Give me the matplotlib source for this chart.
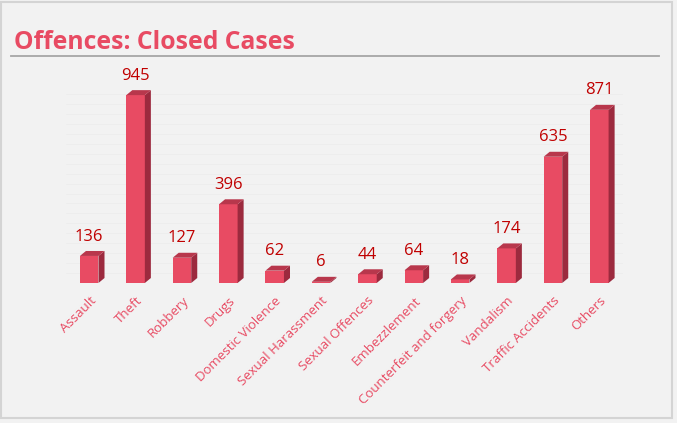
import matplotlib
matplotlib.use("Agg")
import matplotlib.pyplot as plt
from matplotlib.patches import Polygon, Rectangle
from matplotlib.lines import Line2D
import numpy as np

categories = ["Assault", "Theft", "Robbery", "Drugs", "Domestic Violence",
              "Sexual Harassment", "Sexual Offences", "Embezzlement",
              "Counterfeit and forgery", "Vandalism", "Traffic Accidents", "Others"]
closed_cases = [136, 945, 127, 396, 62, 6, 44, 64, 18, 174, 635, 871]

FRONT = "#e84b63"
SIDE = "#9c2a3e"
TOP = "#b8374c"
LABEL = "#c00000"
BG = "#f2f2f2"

plt.rcParams["font.family"] = ["Open Sans", "DejaVu Sans"]

fig = plt.figure(figsize=(6.77, 4.23), dpi=100, facecolor=BG)
# outer frame
fig.add_artist(Rectangle((0.002, 0.012), 0.99, 0.984, transform=fig.transFigure,
                         fill=False, edgecolor="#d4d4d4", lw=1.5))
fig.text(0.021, 0.884, "Offences: Closed Cases", fontsize=17.8, fontweight="bold",
         color="#e84b63", ha="left", va="baseline")
fig.add_artist(Line2D([0.016, 0.974], [0.867, 0.867], transform=fig.transFigure,
                      color="#a6a6a6", lw=1.3))

ax = fig.add_axes([0.0975, 0.331, 0.822, 0.470])
ax.set_facecolor("none")
x = np.arange(len(categories))
bw = 0.4
dx, dy = 0.13, 25  # depth offsets (data units)
ax.set_xlim(-0.5, len(categories) - 0.5)
ax.set_ylim(0, 1000)

# faint back wall grid
for g in np.arange(50, 1000, 50):
    ax.plot([-0.5, len(categories) - 0.2], [g, g], color="#ececec", lw=0.5, zorder=0)

bars = ax.bar(x, closed_cases, width=bw, color=FRONT, zorder=3)
for b, v in zip(bars, closed_cases):
    x0 = b.get_x()
    x1 = x0 + b.get_width()
    ax.add_patch(Polygon([(x1, 0), (x1 + dx, dy), (x1 + dx, v + dy), (x1, v)],
                         closed=True, facecolor=SIDE, edgecolor="none", zorder=3))
    ax.add_patch(Polygon([(x0, v), (x0 + dx, v + dy), (x1 + dx, v + dy), (x1, v)],
                         closed=True, facecolor=TOP, edgecolor="none", zorder=3))
    ax.text(x0 + b.get_width() / 2, v + dy + 32, f"{v}", ha="center", va="bottom",
            fontsize=12, color=LABEL)

ax.set_xticks(x, categories, rotation=45, ha="right", rotation_mode="anchor",
              fontsize=9.5, color=FRONT)
ax.tick_params(axis="x", length=0, pad=8)
ax.set_yticks([])
for s in ax.spines.values():
    s.set_visible(False)

fig.savefig("out.png", facecolor=BG)
